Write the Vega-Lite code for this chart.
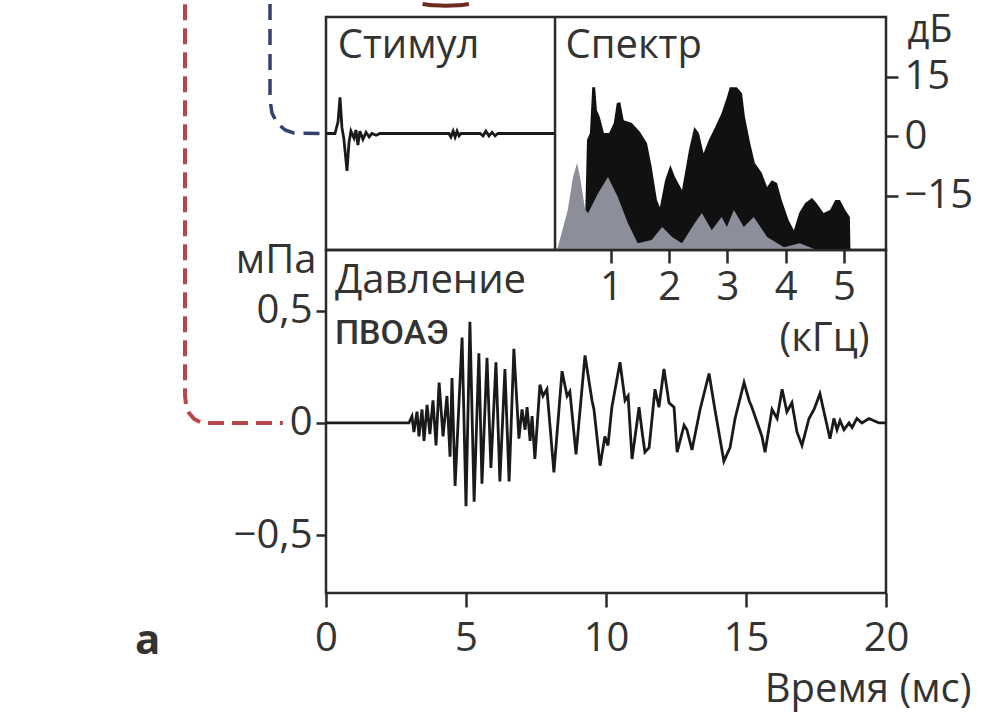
{
  "$schema": "https://vega.github.io/schema/vega-lite/v6.json",
  "padding": {"left": 133, "top": 0, "right": 5, "bottom": 5},
  "background": "white",
  "config": {
    "font": "Open Sans",
    "view": {"stroke": "#2a2a2a", "strokeWidth": 2.5},
    "axis": {"domain": false, "grid": false, "tickColor": "#2a2a2a", "tickWidth": 2.5, "labelFont": "Open Sans", "labelColor": "#333333", "labelFontSize": 40, "titleFont": "Open Sans", "titleColor": "#333333", "titleFontSize": 40, "titleFontWeight": "normal", "labelOverlap": false}
  },
  "datasets": {
    "trace": [
      {"t":0,"v":0},{"t":2.96,"v":0},{"t":3.07,"v":0.03},{"t":3.14,"v":-0.04},{"t":3.25,"v":0.05},{"t":3.32,"v":-0.06},{"t":3.43,"v":0.06},{"t":3.5,"v":-0.08},{"t":3.61,"v":0.08},{"t":3.71,"v":-0.05},{"t":3.82,"v":0.1},{"t":3.93,"v":-0.1},{"t":4.04,"v":0.18},{"t":4.18,"v":-0.06},{"t":4.32,"v":0.12},{"t":4.43,"v":-0.15},{"t":4.5,"v":0.2},{"t":4.61,"v":-0.28},{"t":4.86,"v":0.38},{"t":5.0,"v":-0.37},{"t":5.14,"v":0.45},{"t":5.29,"v":-0.35},{"t":5.46,"v":0.31},{"t":5.57,"v":-0.27},{"t":5.75,"v":0.29},{"t":5.89,"v":-0.2},{"t":6.07,"v":0.27},{"t":6.21,"v":-0.26},{"t":6.39,"v":0.24},{"t":6.54,"v":-0.26},{"t":6.71,"v":0.33},{"t":6.89,"v":-0.07},{"t":7.0,"v":0.06},{"t":7.11,"v":-0.03},{"t":7.18,"v":0.07},{"t":7.29,"v":-0.08},{"t":7.36,"v":0.03},{"t":7.46,"v":-0.16},{"t":7.64,"v":0.17},{"t":7.75,"v":0.12},{"t":7.89,"v":0.15},{"t":8.14,"v":-0.22},{"t":8.43,"v":0.23},{"t":8.61,"v":0.12},{"t":8.71,"v":0.14},{"t":8.93,"v":-0.14},{"t":9.25,"v":0.3},{"t":9.5,"v":0.1},{"t":9.57,"v":0.06},{"t":9.79,"v":-0.19},{"t":9.96,"v":-0.06},{"t":10.07,"v":-0.1},{"t":10.21,"v":0.07},{"t":10.5,"v":0.27},{"t":10.68,"v":0.1},{"t":10.79,"v":0.12},{"t":10.93,"v":-0.16},{"t":11.18,"v":0.07},{"t":11.29,"v":-0.04},{"t":11.39,"v":-0.13},{"t":11.54,"v":-0.11},{"t":11.75,"v":0.15},{"t":11.89,"v":0.07},{"t":12.07,"v":0.24},{"t":12.25,"v":0.09},{"t":12.43,"v":0.07},{"t":12.54,"v":-0.13},{"t":12.79,"v":-0.01},{"t":12.89,"v":-0.03},{"t":13.07,"v":-0.12},{"t":13.36,"v":0.06},{"t":13.68,"v":0.22},{"t":13.89,"v":0.06},{"t":14.21,"v":-0.17},{"t":14.43,"v":-0.11},{"t":14.61,"v":0.02},{"t":14.93,"v":0.18},{"t":15.11,"v":0.1},{"t":15.21,"v":0.07},{"t":15.57,"v":-0.06},{"t":15.68,"v":-0.13},{"t":15.93,"v":0.06},{"t":16.11,"v":0.02},{"t":16.29,"v":0.15},{"t":16.46,"v":0.05},{"t":16.64,"v":0.09},{"t":16.82,"v":-0.04},{"t":17.0,"v":-0.1},{"t":17.25,"v":0.02},{"t":17.43,"v":0.06},{"t":17.64,"v":0.13},{"t":17.82,"v":0.03},{"t":18.0,"v":-0.07},{"t":18.14,"v":0.02},{"t":18.25,"v":-0.03},{"t":18.36,"v":0.01},{"t":18.5,"v":-0.03},{"t":18.68,"v":0.0},{"t":18.79,"v":-0.02},{"t":18.96,"v":0.02},{"t":19.14,"v":0.0},{"t":19.39,"v":0.02},{"t":19.57,"v":0.01},{"t":19.75,"v":0.0},{"t":20,"v":0}
    ],
    "redpath": [
      {"i":0,"t":-5.036,"v":1.862},{"i":1,"t":-5.036,"v":0.124},{"i":2,"t":-5.0,"v":0.08},{"i":3,"t":-4.89,"v":0.044},{"i":4,"t":-4.71,"v":0.018},{"i":5,"t":-4.46,"v":0.002},{"i":6,"t":-4.21,"v":0},{"i":7,"t":-1.54,"v":0}
    ],
    "stim": [
      {"t":0,"v":0},{"t":0.32,"v":0},{"t":0.43,"v":0.1},{"t":0.5,"v":0.31},{"t":0.57,"v":0.05},{"t":0.64,"v":-0.05},{"t":0.75,"v":-0.32},{"t":0.82,"v":-0.08},{"t":0.89,"v":0.02},{"t":1.0,"v":-0.04},{"t":1.07,"v":0.03},{"t":1.14,"v":-0.1},{"t":1.21,"v":0.02},{"t":1.32,"v":-0.05},{"t":1.43,"v":0.01},{"t":1.54,"v":-0.03},{"t":1.64,"v":0},{"t":1.79,"v":-0.015},{"t":1.93,"v":0},{"t":4.39,"v":0},{"t":4.46,"v":-0.03},{"t":4.54,"v":0.02},{"t":4.61,"v":-0.03},{"t":4.68,"v":0.02},{"t":4.75,"v":-0.02},{"t":4.82,"v":0},{"t":5.5,"v":0},{"t":5.61,"v":-0.02},{"t":5.71,"v":0.02},{"t":5.82,"v":-0.02},{"t":5.93,"v":0.01},{"t":6.04,"v":-0.02},{"t":6.14,"v":0},{"t":8.18,"v":0}
    ],
    "bluepath": [
      {"i":0,"t":-2.0,"v":1.112},{"i":1,"t":-2.0,"v":0.288},{"i":2,"t":-1.93,"v":0.176},{"i":3,"t":-1.75,"v":0.09},{"i":4,"t":-1.46,"v":0.03},{"i":5,"t":-1.14,"v":0.004},{"i":6,"t":0,"v":0}
    ],
    "arc": [
      {"i":0,"t":3.45,"v":1.112},{"i":1,"t":3.86,"v":1.1},{"i":2,"t":4.29,"v":1.096},{"i":3,"t":4.71,"v":1.1},{"i":4,"t":5.1,"v":1.112}
    ],
    "specBlack": [
      {"f":0.555,"db":-28.7},{"f":0.56,"db":-19.4},{"f":0.59,"db":-1},{"f":0.64,"db":0.8},{"f":0.68,"db":12.3},{"f":0.73,"db":12.3},{"f":0.76,"db":6.5},{"f":0.81,"db":4.8},{"f":0.88,"db":0.8},{"f":0.97,"db":0.8},{"f":1.05,"db":3.3},{"f":1.1,"db":8.3},{"f":1.16,"db":8.6},{"f":1.22,"db":4.0},{"f":1.36,"db":3.3},{"f":1.5,"db":1.0},{"f":1.62,"db":-1.8},{"f":1.7,"db":-7.8},{"f":1.79,"db":-16.1},{"f":1.84,"db":-17.9},{"f":1.93,"db":-11.1},{"f":2.02,"db":-7.3},{"f":2.1,"db":-10.3},{"f":2.22,"db":-13.6},{"f":2.34,"db":-3.5},{"f":2.43,"db":2.3},{"f":2.51,"db":0.8},{"f":2.59,"db":-4.3},{"f":2.68,"db":-1.0},{"f":2.79,"db":2.3},{"f":2.9,"db":5.8},{"f":2.99,"db":9.8},{"f":3.04,"db":12.3},{"f":3.16,"db":12.3},{"f":3.25,"db":10.8},{"f":3.3,"db":4.8},{"f":3.39,"db":-1.8},{"f":3.47,"db":-6.8},{"f":3.59,"db":-9.3},{"f":3.68,"db":-12.8},{"f":3.76,"db":-11.1},{"f":3.85,"db":-11.8},{"f":3.93,"db":-16.1},{"f":4.05,"db":-21.2},{"f":4.14,"db":-23.7},{"f":4.23,"db":-19.4},{"f":4.33,"db":-16.9},{"f":4.45,"db":-15.6},{"f":4.53,"db":-16.9},{"f":4.65,"db":-19.4},{"f":4.76,"db":-18.6},{"f":4.85,"db":-16.1},{"f":4.93,"db":-16.1},{"f":5.02,"db":-18.6},{"f":5.1,"db":-20.4},{"f":5.11,"db":-28.7}
    ],
    "specGrey": [
      {"f":0.05,"db":-28.7},{"f":0.09,"db":-28},{"f":0.26,"db":-18.6},{"f":0.35,"db":-10.3},{"f":0.42,"db":-6.8},{"f":0.47,"db":-10.3},{"f":0.56,"db":-18.6},{"f":0.61,"db":-19.4},{"f":0.78,"db":-14.4},{"f":0.95,"db":-10.3},{"f":1.12,"db":-15.4},{"f":1.29,"db":-21.9},{"f":1.46,"db":-27},{"f":1.7,"db":-26.2},{"f":1.88,"db":-22.9},{"f":2.05,"db":-25.4},{"f":2.22,"db":-27},{"f":2.44,"db":-21.9},{"f":2.56,"db":-19.4},{"f":2.73,"db":-23.7},{"f":2.9,"db":-20.4},{"f":2.99,"db":-22.9},{"f":3.11,"db":-18.6},{"f":3.28,"db":-22.9},{"f":3.45,"db":-20.4},{"f":3.68,"db":-25.4},{"f":3.97,"db":-28},{"f":4.24,"db":-27},{"f":4.53,"db":-28.7},{"f":5.11,"db":-28.7}
    ]
  },
  "spacing": 0,
  "bounds": "flush",
  "vconcat": [
    {
      "width": 560,
      "height": 233,
      "resolve": {"scale": {"x": "independent", "y": "independent"}, "axis": {"x": "independent", "y": "independent"}},
      "layer": [
        {
          "encoding": {
            "x": {"field": "t", "type": "quantitative", "scale": {"domain": [0, 20]}, "axis": null},
            "y": {"field": "v", "type": "quantitative", "scale": {"domain": [-1, 1]}, "axis": null}
          },
          "layer": [
            {"data": {"name": "stim"}, "mark": {"type": "line", "color": "#1a1a1a", "strokeWidth": 2.8}},
            {"data": {"name": "bluepath"}, "mark": {"type": "line", "color": "#34406e", "strokeWidth": 3.5, "strokeDash": [16, 9], "strokeJoin": "round"}, "encoding": {"order": {"field": "i"}}},
            {"data": {"name": "arc"}, "mark": {"type": "line", "color": "#6e2a1e", "strokeWidth": 4, "strokeJoin": "round", "interpolate": "monotone"}, "encoding": {"order": {"field": "i"}}},
            {"data": {"values": [{"t": 8.18, "label": "divider"}]}, "mark": {"type": "rule", "color": "#2a2a2a", "strokeWidth": 2.5}, "encoding": {"x": {"field": "t", "type": "quantitative"}, "y": null}},
            {"data": {"values": [{"t": 0.42, "v": 0.648, "label": "Стимул"}]}, "mark": {"type": "text", "align": "left", "baseline": "alphabetic", "fontSize": 40, "color": "#333333"}, "encoding": {"text": {"field": "label"}}}
          ]
        },
        {
          "encoding": {
            "x": {"field": "f", "type": "quantitative", "scale": {"domain": [-3.888, 5.72]},
                  "axis": {"orient": "bottom", "values": [1, 2, 3, 4, 5], "tickSize": 13, "labelPadding": 4, "labelFlush": false, "title": "(кГц)", "titleAlign": "right", "titleX": 543, "titleY": 100, "titleBaseline": "alphabetic"}},
            "y": {"field": "db", "type": "quantitative", "scale": {"domain": [-28.7, 30]},
                  "axis": {"orient": "right", "values": [-15, 0, 15], "tickSize": 12, "labelPadding": 6, "title": "дБ", "titleAngle": 0, "titleAlign": "left", "titleX": 21, "titleY": 24, "titleFontSize": 38, "titleBaseline": "alphabetic"}}
          },
          "layer": [
            {"data": {"name": "specBlack"}, "mark": {"type": "area", "color": "#111111"}, "encoding": {"y2": {"datum": -28.7}}},
            {"data": {"name": "specGrey"}, "mark": {"type": "area", "color": "#8c8e9a"}, "encoding": {"y2": {"datum": -28.7}}},
            {"data": {"values": [{"f": 0.22, "db": 19.6, "label": "Спектр"}]}, "mark": {"type": "text", "align": "left", "baseline": "alphabetic", "fontSize": 40, "color": "#333333"}, "encoding": {"text": {"field": "label"}}}
          ]
        }
      ]
    },
    {
      "width": 560,
      "height": 343,
      "encoding": {
        "x": {"field": "t", "type": "quantitative", "scale": {"domain": [0, 20]},
              "axis": {"values": [0, 5, 10, 15, 20], "tickSize": 14, "labelPadding": 11, "labelFlush": false, "title": "Время (мс)", "titleAlign": "right", "titleX": 645, "titleY": 108, "titleBaseline": "alphabetic"}},
        "y": {"field": "v", "type": "quantitative", "scale": {"domain": [-0.756, 0.769]},
              "axis": {"values": [-0.5, 0, 0.5], "tickSize": 10, "labelPadding": 4, "labelExpr": "datum.value == 0 ? '0' : replace(format(datum.value, '.1f'), '.', ',')", "title": "мПа", "titleAngle": 0, "titleAlign": "right", "titleX": -10, "titleY": 22, "titleBaseline": "alphabetic"}}
      },
      "layer": [
        {"data": {"name": "trace"}, "mark": {"type": "line", "color": "#1a1a1a", "strokeWidth": 2.8}},
        {"data": {"name": "redpath"}, "mark": {"type": "line", "color": "#b9474a", "strokeWidth": 4, "strokeDash": [16, 8], "strokeJoin": "round"}, "encoding": {"order": {"field": "i"}}},
        {"data": {"values": [{"t": 0.32, "v": 0.578, "label": "Давление"}]}, "mark": {"type": "text", "align": "left", "baseline": "alphabetic", "fontSize": 40, "color": "#333333"}, "encoding": {"text": {"field": "label"}}},
        {"data": {"values": [{"t": 0.32, "v": 0.35, "label": "ПВОАЭ"}]}, "mark": {"type": "text", "align": "left", "baseline": "alphabetic", "fontSize": 34, "font": "Roboto", "fontWeight": 500, "color": "#333333"}, "encoding": {"text": {"field": "label"}}},
        {"data": {"values": [{"t": -6.82, "v": -1.027, "label": "а"}]}, "mark": {"type": "text", "align": "left", "baseline": "alphabetic", "fontSize": 42, "fontWeight": "bold", "color": "#333333"}, "encoding": {"text": {"field": "label"}}}
      ]
    }
  ]
}
